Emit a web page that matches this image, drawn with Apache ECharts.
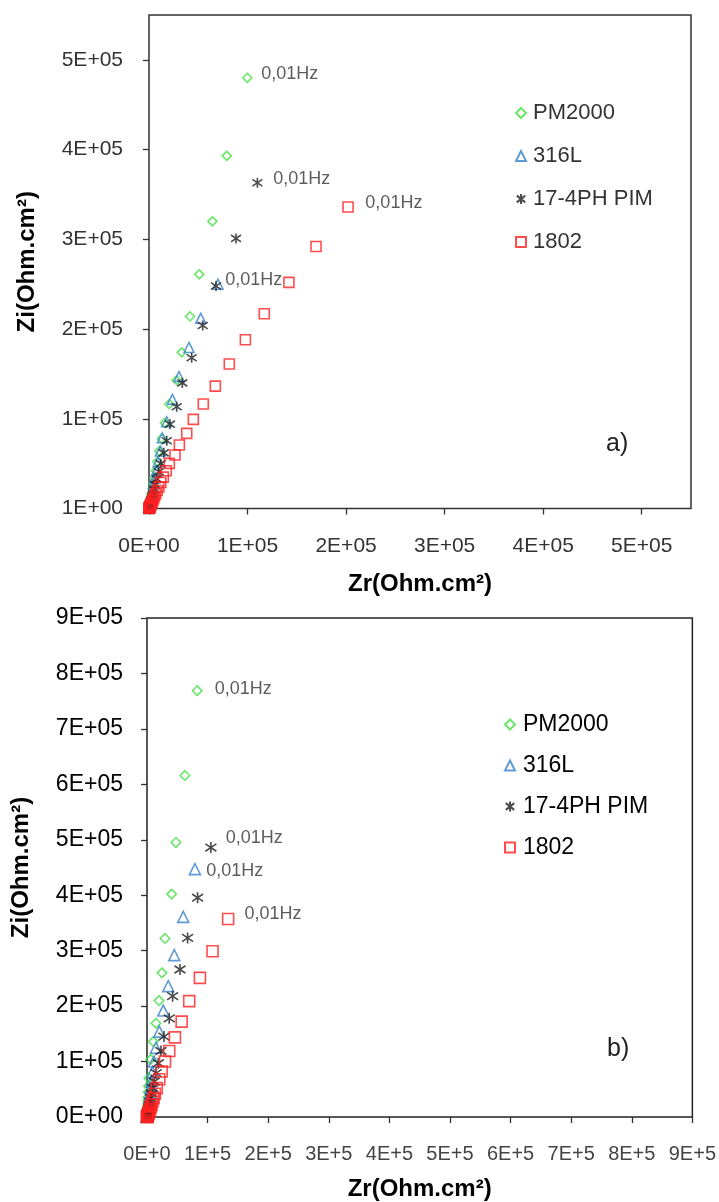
<!DOCTYPE html>
<html>
<head>
<meta charset="utf-8">
<script src="https://cdn.jsdelivr.net/npm/echarts@6/dist/echarts.min.js"></script>
<style>
  html, body { margin: 0; padding: 0; background: #ffffff; }
  #chart { width: 719px; height: 1202px; }
</style>
</head>
<body>
<div id="chart"></div>
<script>
// Nyquist plots of four alloys. Zr / Zi values are given in units of 1e5 Ohm.cm²,
// listed from high frequency down to the last point at 0.01 Hz.
const SERIES_NAMES = ['PM2000', '316L', '17-4PH PIM', '1802'];

// ---- panel a) ----
const zrA_PM2000 = [0.0005,0.0008,0.0012,0.0018,0.0025,0.0035,0.0045,0.006,0.008,0.010,0.013,0.017,0.022,0.028,0.035,0.044,0.055,0.068,0.085,0.105,0.130,0.160,0.206,0.280,0.332,0.416,0.510,0.643,0.789,0.998];
const ziA_PM2000 = [0.001,0.0025,0.005,0.009,0.014,0.020,0.028,0.038,0.050,0.065,0.085,0.110,0.140,0.175,0.220,0.275,0.340,0.420,0.520,0.640,0.780,0.955,1.164,1.430,1.740,2.140,2.610,3.200,3.930,4.800];
const zrA_316L = [0.0005,0.0008,0.0013,0.002,0.003,0.004,0.005,0.007,0.009,0.011,0.015,0.019,0.024,0.030,0.038,0.048,0.060,0.075,0.092,0.115,0.135,0.180,0.237,0.305,0.406,0.525,0.700];
const ziA_316L = [0.001,0.0025,0.005,0.009,0.014,0.020,0.028,0.038,0.050,0.065,0.085,0.110,0.140,0.175,0.220,0.275,0.340,0.420,0.520,0.640,0.788,0.967,1.216,1.470,1.795,2.120,2.500];
const zrA_174PH = [0.001,0.002,0.003,0.004,0.006,0.008,0.011,0.015,0.019,0.025,0.032,0.040,0.051,0.064,0.080,0.100,0.120,0.150,0.180,0.213,0.281,0.338,0.433,0.545,0.680,0.883,1.100];
const ziA_174PH = [0.002,0.005,0.009,0.015,0.023,0.033,0.045,0.060,0.078,0.100,0.130,0.165,0.210,0.265,0.330,0.410,0.500,0.620,0.755,0.940,1.134,1.400,1.680,2.040,2.480,3.010,3.630];
const zrA_1802 = [0.001,0.002,0.003,0.0045,0.006,0.008,0.010,0.013,0.016,0.020,0.025,0.031,0.038,0.046,0.056,0.068,0.083,0.100,0.120,0.145,0.175,0.206,0.264,0.308,0.383,0.450,0.551,0.673,0.815,0.978,1.170,1.420,1.695,2.020];
const ziA_1802 = [0.0008,0.002,0.004,0.007,0.011,0.016,0.022,0.029,0.037,0.047,0.059,0.073,0.090,0.110,0.135,0.165,0.200,0.240,0.290,0.350,0.420,0.503,0.596,0.707,0.837,0.993,1.164,1.364,1.610,1.880,2.170,2.520,2.920,3.360];

// ---- panel b) ----
const zrB_PM2000 = [0.0002,0.0004,0.0006,0.001,0.0014,0.002,0.0027,0.0036,0.0047,0.006,0.0075,0.0095,0.012,0.015,0.019,0.024,0.030,0.061,0.104,0.148,0.198,0.247,0.297,0.407,0.478,0.626,0.829];
const ziB_PM2000 = [0.003,0.007,0.013,0.022,0.034,0.048,0.065,0.085,0.110,0.140,0.180,0.230,0.290,0.360,0.450,0.560,0.700,1.040,1.360,1.690,2.100,2.600,3.220,4.020,4.950,6.160,7.690];
const zrB_316L = [0.0003,0.0006,0.0011,0.0018,0.0027,0.0038,0.005,0.007,0.009,0.012,0.015,0.019,0.024,0.030,0.038,0.047,0.058,0.072,0.090,0.115,0.148,0.203,0.269,0.351,0.450,0.598,0.791];
const ziB_316L = [0.0015,0.004,0.008,0.014,0.023,0.034,0.048,0.065,0.085,0.110,0.140,0.180,0.225,0.280,0.350,0.430,0.530,0.650,0.810,1.000,1.250,1.540,1.920,2.360,2.920,3.610,4.470];
const zrB_174PH = [0.0008,0.0015,0.0025,0.0035,0.005,0.007,0.009,0.012,0.015,0.020,0.025,0.032,0.040,0.050,0.063,0.078,0.097,0.120,0.150,0.186,0.230,0.280,0.367,0.423,0.544,0.670,0.835,1.054];
const ziB_174PH = [0.002,0.005,0.009,0.015,0.023,0.033,0.045,0.060,0.080,0.105,0.135,0.170,0.215,0.270,0.340,0.420,0.520,0.640,0.790,0.970,1.190,1.450,1.780,2.180,2.660,3.230,3.955,4.860];
const zrB_1802 = [0.001,0.002,0.003,0.004,0.006,0.008,0.010,0.013,0.017,0.021,0.027,0.033,0.040,0.050,0.062,0.075,0.090,0.110,0.130,0.160,0.203,0.242,0.297,0.367,0.461,0.572,0.697,0.873,1.082,1.339];
const ziB_1802 = [0.001,0.003,0.005,0.008,0.012,0.017,0.024,0.032,0.042,0.055,0.070,0.090,0.115,0.145,0.180,0.220,0.280,0.340,0.420,0.520,0.680,0.820,1.000,1.190,1.437,1.720,2.090,2.510,2.990,3.570];

// ---- axis ticks and their labels ----
const ticksA = [0, 100000, 200000, 300000, 400000, 500000];
const xLabelsA = ['0E+00', '1E+05', '2E+05', '3E+05', '4E+05', '5E+05'];
const yLabelsA = ['1E+00', '1E+05', '2E+05', '3E+05', '4E+05', '5E+05'];
const ticksB = [0, 100000, 200000, 300000, 400000, 500000, 600000, 700000, 800000, 900000];
const xLabelsB = ['0E+0', '1E+5', '2E+5', '3E+5', '4E+5', '5E+5', '6E+5', '7E+5', '8E+5', '9E+5'];
const yLabelsB = ['0E+00', '1E+05', '2E+05', '3E+05', '4E+05', '5E+05', '6E+05', '7E+05', '8E+05', '9E+05'];
const LAST_POINT_LABEL = '0,01Hz';

const UNIT = 1e5;
const FONT = '"Liberation Sans", Arial, sans-serif';
const STAR = 'path://M5,0L5,10M0.8,1.6L9.2,8.4M0.8,8.4L9.2,1.6';

const MARKERS = {
  'PM2000':     { symbol: 'diamond',  size: 9,  color: '#44e044' },
  '316L':       { symbol: 'triangle', size: 10, color: '#3a82c8' },
  '17-4PH PIM': { symbol: STAR,       size: 10, color: '#1e1e1e' },
  '1802':       { symbol: 'rect',     size: 10, color: '#ff2020' }
};

function points(zr, zi) {
  return zr.map((v, i) => [v * UNIT, zi[i] * UNIT]);
}

function makeSeries(name, data, gridIdx, lab, extra) {
  const m = MARKERS[name];
  const items = data.map((p, i) => i === data.length - 1 ? {
    value: p,
    label: {
      show: true, position: 'right', distance: lab[0], offset: [0, lab[1]],
      formatter: LAST_POINT_LABEL, color: '#333', fontSize: 18, fontFamily: FONT
    }
  } : p);
  return {
    type: 'scatter', name: name,
    xAxisIndex: gridIdx, yAxisIndex: gridIdx,
    data: items,
    symbol: m.symbol, symbolSize: m.size + extra,
    itemStyle: { color: 'rgba(0,0,0,0)', borderColor: m.color, borderWidth: 1.6 },
    emphasis: { disabled: true },
    silent: true, animation: false
  };
}

function labelFrom(ticks, labels) {
  return v => { const k = ticks.indexOf(v); return k < 0 ? '' : labels[k]; };
}

function xAxis(gridIdx, max, ticks, labels, fontSize, color, nameGap) {
  return {
    type: 'value', gridIndex: gridIdx, min: 0, max: max,
    axisLine: { show: false }, splitLine: { show: false },
    axisTick: { show: true, length: 6, customValues: ticks, lineStyle: { color: '#333', width: 1.3 } },
    axisLabel: { customValues: ticks, formatter: labelFrom(ticks, labels), margin: 27,
                 fontSize: fontSize, color: color, fontFamily: FONT },
    name: 'Zr(Ohm.cm²)', nameLocation: 'middle', nameGap: nameGap,
    nameTextStyle: { fontSize: 24, fontWeight: 'bold', color: '#000', fontFamily: FONT }
  };
}

function yAxis(gridIdx, max, ticks, labels, fontSize, color, margin, nameGap) {
  return {
    type: 'value', gridIndex: gridIdx, min: 0, max: max,
    axisLine: { show: false }, splitLine: { show: false },
    axisTick: { show: true, length: 6, customValues: ticks, lineStyle: { color: '#333', width: 1.3 } },
    axisLabel: { customValues: ticks, formatter: labelFrom(ticks, labels), margin: margin,
                 fontSize: fontSize, color: color, fontFamily: FONT },
    name: 'Zi(Ohm.cm²)', nameLocation: 'middle', nameGap: nameGap, nameRotate: 90,
    nameTextStyle: { fontSize: 24, fontWeight: 'bold', color: '#000', fontFamily: FONT }
  };
}

const series = [
  makeSeries('PM2000',     points(zrA_PM2000, ziA_PM2000), 0, [8.5, -4], 0),
  makeSeries('316L',       points(zrA_316L,   ziA_316L),   0, [1.5, -4], 0),
  makeSeries('17-4PH PIM', points(zrA_174PH,  ziA_174PH),  0, [10, -4], 0),
  makeSeries('1802',       points(zrA_1802,   ziA_1802),   0, [11.5, -3.5], 0),
  makeSeries('PM2000',     points(zrB_PM2000, ziB_PM2000), 1, [12, -1.5], 0.5),
  makeSeries('316L',       points(zrB_316L,   ziB_316L),   1, [5, 2], 1),
  makeSeries('17-4PH PIM', points(zrB_174PH,  ziB_174PH),  1, [8.5, -10], 1),
  makeSeries('1802',       points(zrB_1802,   ziB_1802),   1, [10, -5], 1)
];

const chart = echarts.init(document.getElementById('chart'), null, { renderer: 'canvas' });
chart.setOption({
  animation: false,
  backgroundColor: '#ffffff',
  grid: [
    { left: 149, top: 15, width: 542, height: 493.5, show: true, borderColor: '#333', borderWidth: 1.5, backgroundColor: 'rgba(0,0,0,0)' },
    { left: 147, top: 618, width: 546, height: 499, show: true, borderColor: '#222', borderWidth: 1.5, backgroundColor: 'rgba(0,0,0,0)' }
  ],
  xAxis: [
    xAxis(0, 550000, ticksA, xLabelsA, 21, '#333', 64),
    xAxis(1, 900000, ticksB, xLabelsB, 20, '#444', 60)
  ],
  yAxis: [
    yAxis(0, 550000, ticksA, yLabelsA, 21, '#333', 26, 110),
    yAxis(1, 900000, ticksB, yLabelsB, 23, '#000', 24, 114)
  ],
  legend: [
    { data: SERIES_NAMES, orient: 'vertical', left: 515, top: 102, padding: 0,
      itemWidth: 10, itemHeight: 10, itemGap: 21, selectedMode: false,
      textStyle: { fontSize: 22, color: '#333', fontFamily: FONT, padding: [0, 0, 0, 2] } },
    { data: SERIES_NAMES, orient: 'vertical', left: 504, top: 713, padding: 0,
      itemWidth: 10, itemHeight: 10, itemGap: 18, selectedMode: false,
      textStyle: { fontSize: 23, color: '#000', fontFamily: FONT, padding: [0, 0, 0, 3] } }
  ],
  graphic: [
    { type: 'text', left: 606, top: 432, style: { text: 'a)', fontSize: 25, fill: '#222', fontFamily: FONT } },
    { type: 'text', left: 607, top: 1037, style: { text: 'b)', fontSize: 25, fill: '#222', fontFamily: FONT } }
  ],
  series: series
});
</script>
</body>
</html>
